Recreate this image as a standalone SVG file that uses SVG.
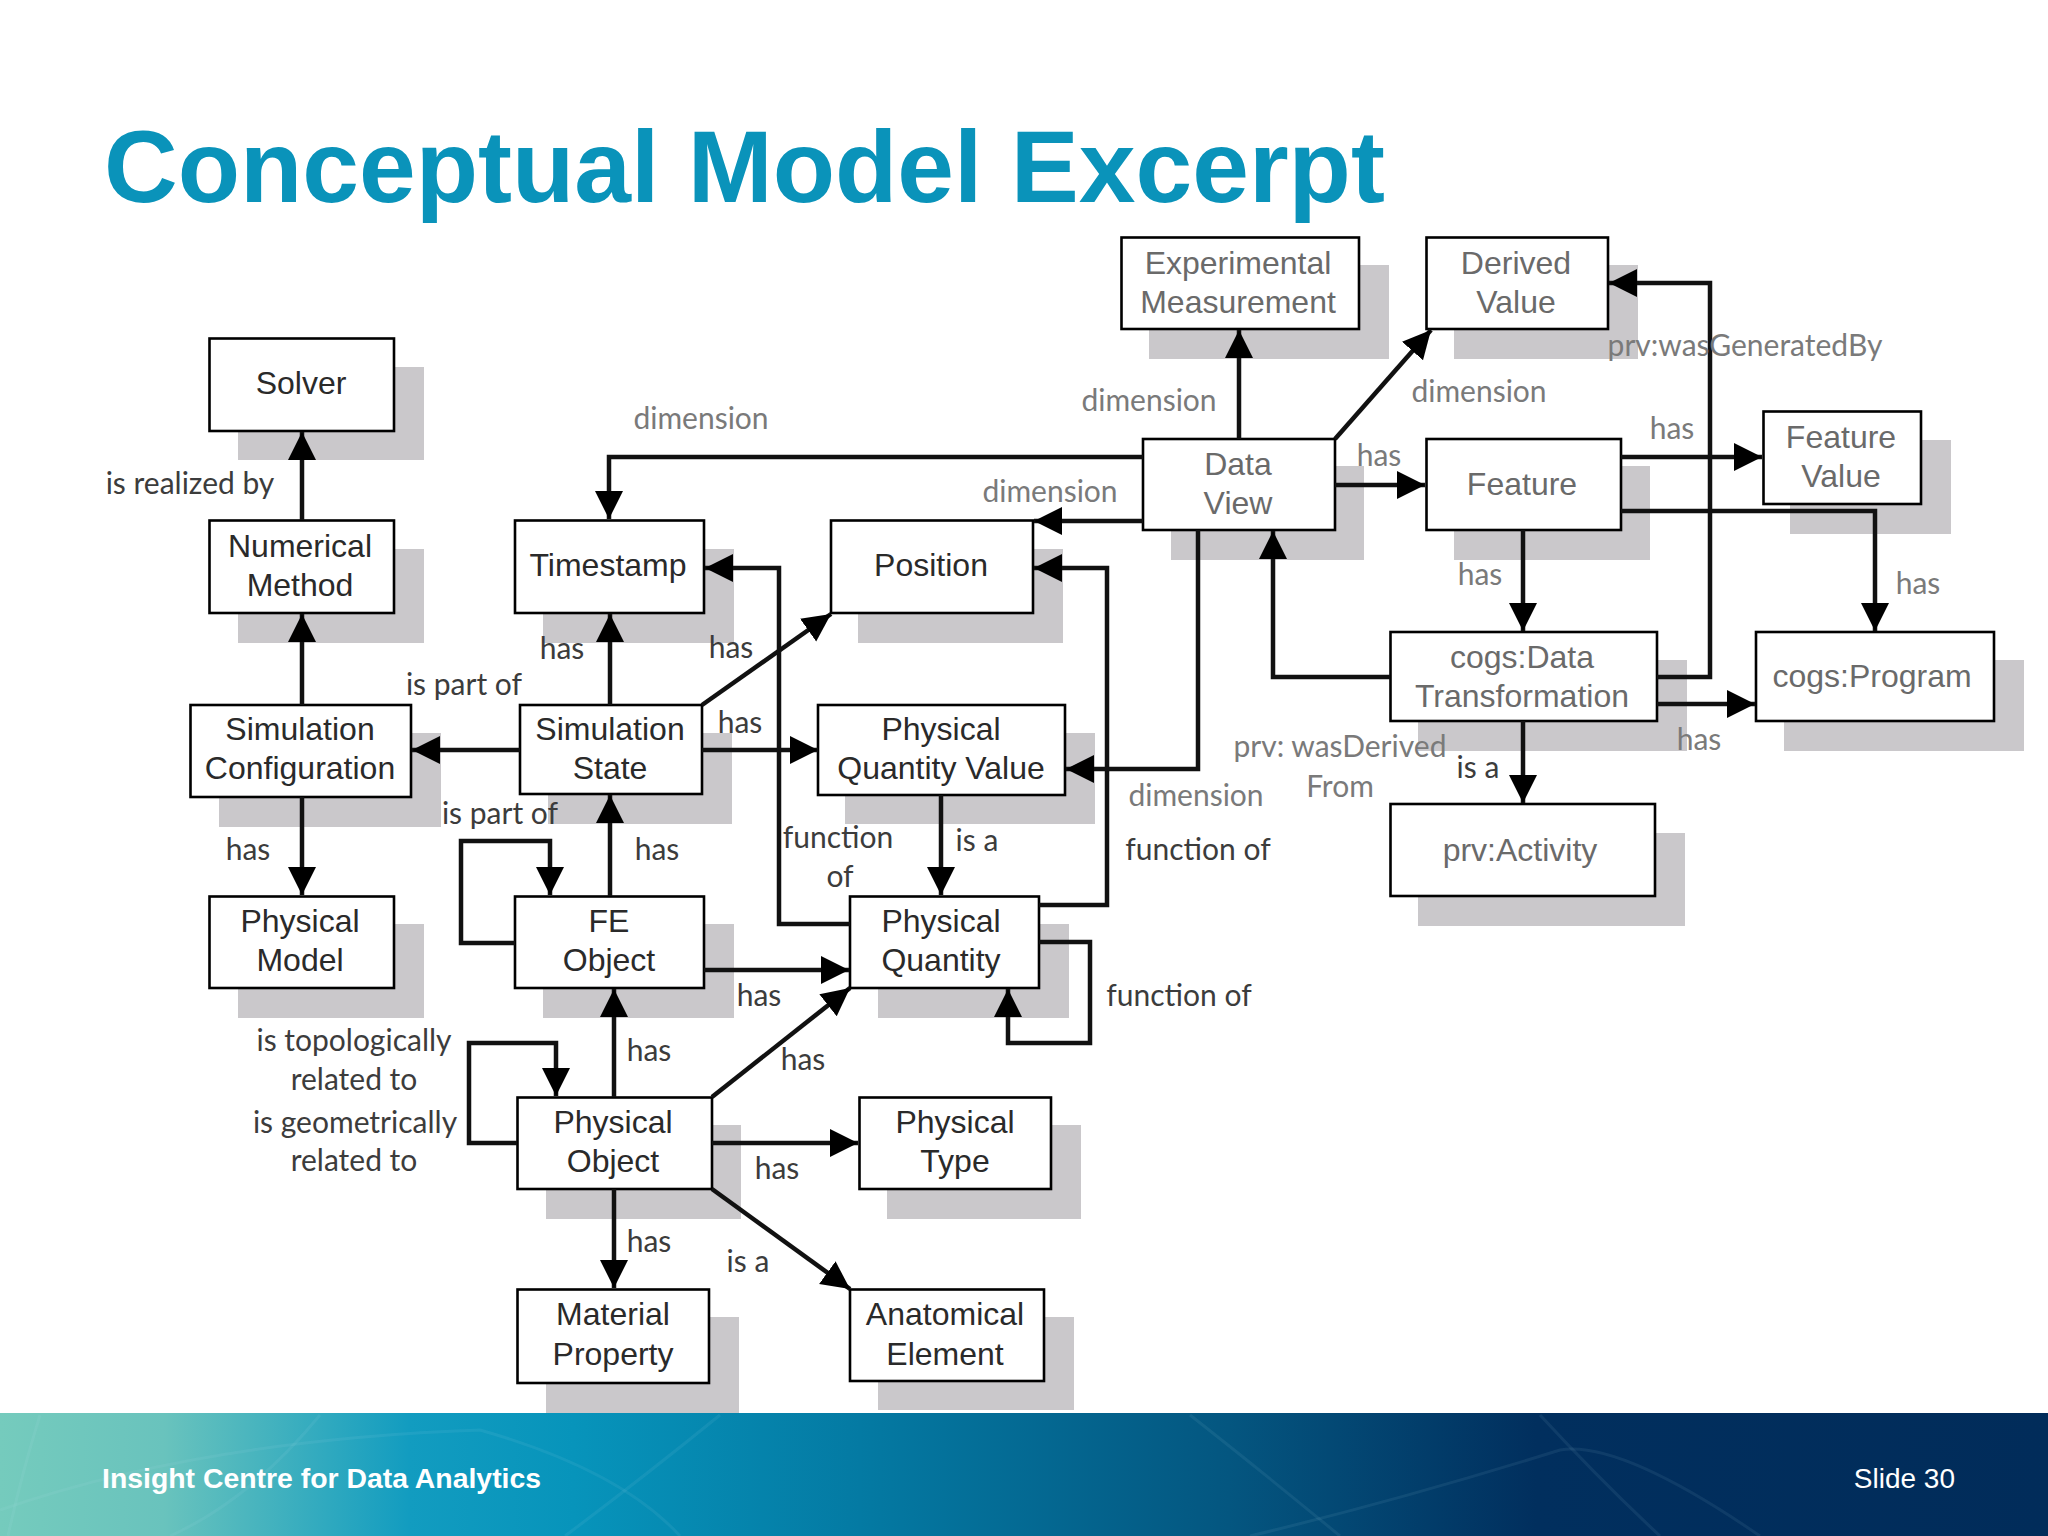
<svg xmlns="http://www.w3.org/2000/svg" width="2048" height="1536" viewBox="0 0 2048 1536">
<style>
.s{fill:#cac8cb}
.b{fill:#fff;stroke:#000;stroke-width:2.6}
.n{font-family:"Liberation Sans",Arial,sans-serif;font-size:32px;text-anchor:middle;fill:#2a2a2a}
.g{fill:#6a6a6a}
.c path{fill:none;stroke:#111;stroke-width:4.5;marker-end:url(#a)}
.l{font-family:Lato,"Liberation Sans",sans-serif;font-size:30px;text-anchor:middle;fill:#3c3c3c}
.d{fill:#7a7a7a}
</style>
<defs>
<marker id="a" markerUnits="userSpaceOnUse" markerWidth="30" markerHeight="30" refX="28" refY="15" orient="auto"><path d="M0 1L28 15L0 29Z" fill="#000"/></marker>
<linearGradient id="f" x1="0" x2="1" y1="0" y2="0">
<stop offset="0" stop-color="#75cbbd"/><stop offset=".08" stop-color="#69c3bd"/><stop offset=".2" stop-color="#129cc0"/><stop offset=".28" stop-color="#0794bb"/><stop offset=".42" stop-color="#047aa3"/><stop offset=".6" stop-color="#045680"/><stop offset=".75" stop-color="#012f5e"/><stop offset="1" stop-color="#012c5a"/>
</linearGradient>
</defs>
<rect width="2048" height="1536" fill="#fff"/>
<text x="104" y="202" font-family="Liberation Sans,Arial,sans-serif" font-size="102" font-weight="700" fill="#0a93ba">Conceptual Model Excerpt</text>

<g id="solver"><rect class="s" x="238" y="367" width="186" height="93"/><rect class="b" x="209.500" y="338.500" width="184.500" height="92.500"/><text class="n" x="301" y="394">Solver</text></g>
<g id="numerical-method"><rect class="s" x="238" y="549" width="186" height="94"/><rect class="b" x="209.500" y="520.500" width="184.500" height="92.500"/><text class="n" x="300" y="557">Numerical</text><text class="n" x="300" y="596">Method</text></g>
<g id="timestamp"><rect class="s" x="543" y="549" width="191" height="94"/><rect class="b" x="515" y="520.500" width="189" height="92.500"/><text class="n" x="608" y="576">Timestamp</text></g>
<g id="position"><rect class="s" x="858" y="549" width="205" height="94"/><rect class="b" x="831" y="520.500" width="202" height="92.500"/><text class="n" x="931" y="576">Position</text></g>
<g id="simulation-configuration"><rect class="s" x="219" y="733" width="222" height="94"/><rect class="b" x="190.500" y="705" width="220.500" height="92"/><text class="n" x="300" y="740">Simulation</text><text class="n" x="300" y="779">Configuration</text></g>
<g id="simulation-state"><rect class="s" x="548" y="733" width="184" height="91"/><rect class="b" x="520" y="705" width="182" height="89"/><text class="n" x="610" y="740">Simulation</text><text class="n" x="610" y="779">State</text></g>
<g id="physical-quantity-value"><rect class="s" x="845" y="733" width="250" height="91"/><rect class="b" x="818" y="705" width="247" height="90"/><text class="n" x="941" y="740">Physical</text><text class="n" x="941" y="779">Quantity Value</text></g>
<g id="physical-model"><rect class="s" x="238" y="924" width="186" height="94"/><rect class="b" x="209.500" y="896.500" width="184.500" height="91.500"/><text class="n" x="300" y="932">Physical</text><text class="n" x="300" y="971">Model</text></g>
<g id="fe-object"><rect class="s" x="543" y="924" width="191" height="94"/><rect class="b" x="515" y="896.500" width="189" height="91.500"/><text class="n" x="609" y="932">FE</text><text class="n" x="609" y="971">Object</text></g>
<g id="physical-quantity"><rect class="s" x="878" y="924" width="191" height="94"/><rect class="b" x="850" y="896.500" width="189" height="91.500"/><text class="n" x="941" y="932">Physical</text><text class="n" x="941" y="971">Quantity</text></g>
<g id="physical-object"><rect class="s" x="546" y="1125" width="195" height="94"/><rect class="b" x="517.500" y="1097.500" width="194.500" height="91.500"/><text class="n" x="613" y="1133">Physical</text><text class="n" x="613" y="1172">Object</text></g>
<g id="physical-type"><rect class="s" x="887" y="1125" width="194" height="94"/><rect class="b" x="859.500" y="1097.500" width="191.500" height="91.500"/><text class="n" x="955" y="1133">Physical</text><text class="n" x="955" y="1172">Type</text></g>
<g id="material-property"><rect class="s" x="546" y="1317" width="193" height="96"/><rect class="b" x="517.500" y="1289.500" width="191.500" height="93.500"/><text class="n" x="613" y="1325">Material</text><text class="n" x="613" y="1365">Property</text></g>
<g id="anatomical-element"><rect class="s" x="878" y="1317" width="196" height="93"/><rect class="b" x="850" y="1289.500" width="194" height="91.500"/><text class="n" x="945" y="1325">Anatomical</text><text class="n" x="945" y="1365">Element</text></g>

<g id="experimental-measurement"><rect class="s" x="1149" y="265" width="240" height="94"/><rect class="b" x="1121.500" y="237.500" width="237.500" height="91.500"/><text class="n g" x="1238" y="274">Experimental</text><text class="n g" x="1238" y="313">Measurement</text></g>
<g id="derived-value"><rect class="s" x="1454" y="265" width="184" height="94"/><rect class="b" x="1426.500" y="237.500" width="181.500" height="91.500"/><text class="n g" x="1516" y="274">Derived</text><text class="n g" x="1516" y="313">Value</text></g>
<g id="data-view"><rect class="s" x="1171" y="466" width="193" height="94"/><rect class="b" x="1143" y="439" width="192" height="91"/><text class="n g" x="1238" y="475">Data</text><text class="n g" x="1238" y="514">View</text></g>
<g id="feature"><rect class="s" x="1454" y="466" width="196" height="94"/><rect class="b" x="1426.500" y="439" width="194.500" height="91"/><text class="n g" x="1522" y="495">Feature</text></g>
<g id="feature-value"><rect class="s" x="1790" y="440" width="161" height="94"/><rect class="b" x="1763.500" y="411.500" width="157.500" height="92.500"/><text class="n g" x="1841" y="448">Feature</text><text class="n g" x="1841" y="487">Value</text></g>
<g id="cogs-data-transformation"><rect class="s" x="1418" y="660" width="269" height="91"/><rect class="b" x="1390.500" y="632" width="266.500" height="89"/><text class="n g" x="1522" y="668">cogs:Data</text><text class="n g" x="1522" y="707">Transformation</text></g>
<g id="cogs-program"><rect class="s" x="1784" y="660" width="240" height="91"/><rect class="b" x="1756" y="632" width="238" height="89"/><text class="n g" x="1872" y="687">cogs:Program</text></g>
<g id="prv-activity"><rect class="s" x="1418" y="833" width="267" height="93"/><rect class="b" x="1390.500" y="804" width="264.500" height="92"/><text class="n g" x="1520" y="861">prv:Activity</text></g>

<g id="connectors" class="c">
<path d="M302 520V432"/><path d="M302 705V614"/><path d="M520 750H412"/><path d="M610 705V614"/><path d="M702 705L831 614"/><path d="M702 750H818"/>
<path d="M1143 457H609V519"/><path d="M610 896V795"/><path d="M302 797V895"/>
<path d="M515 943H461V841H550V895"/><path d="M850 924H779V568H705"/><path d="M1039 905H1107V568H1034"/><path d="M1143 521H1034"/>
<path d="M1198 530V769H1066"/><path d="M941 795V895"/><path d="M704 970H849"/><path d="M1039 942H1090V1043H1008V989"/>
<path d="M614 1097V989"/><path d="M712 1097L850 988"/><path d="M517 1143H469V1043H556V1096"/><path d="M712 1143H858"/><path d="M614 1189V1288"/><path d="M712 1189L850 1289"/>
<path d="M1239 439V330"/><path d="M1335 439L1431 330"/><path d="M1335 485H1425"/><path d="M1621 457H1762"/><path d="M1621 511H1875V631"/><path d="M1523 530V631"/>
<path d="M1390 677H1273V531"/><path d="M1657 677H1710V283H1609"/><path d="M1657 704H1755"/><path d="M1523 721V803"/>
</g>

<g id="labels">
<text class="l d" x="701" y="429">dimension</text>
<text class="l" x="190" y="494">is realized by</text>
<text class="l" x="562" y="659">has</text>
<text class="l" x="731" y="658">has</text>
<text class="l" x="464" y="695">is part of</text>
<text class="l" x="740" y="733">has</text>
<text class="l" x="500" y="824">is part of</text>
<text class="l" x="248" y="860">has</text>
<text class="l" x="657" y="860">has</text>
<text class="l" x="838" y="848">function</text>
<text class="l" x="840" y="887">of</text>
<text class="l" x="977" y="851">is a</text>
<text class="l" x="1198" y="860">function of</text>
<text class="l d" x="1196" y="806">dimension</text>
<text class="l d" x="1340" y="757">prv: wasDerived</text>
<text class="l d" x="1340" y="797">From</text>
<text class="l" x="1478" y="778">is a</text>
<text class="l d" x="1699" y="750">has</text>
<text class="l d" x="1745" y="356">prv:wasGeneratedBy</text>
<text class="l d" x="1479" y="402">dimension</text>
<text class="l d" x="1672" y="439">has</text>
<text class="l d" x="1379" y="466">has</text>
<text class="l d" x="1149" y="411">dimension</text>
<text class="l d" x="1050" y="502">dimension</text>
<text class="l d" x="1480" y="585">has</text>
<text class="l d" x="1918" y="594">has</text>
<text class="l" x="759" y="1006">has</text>
<text class="l" x="649" y="1061">has</text>
<text class="l" x="803" y="1070">has</text>
<text class="l" x="777" y="1179">has</text>
<text class="l" x="649" y="1252">has</text>
<text class="l" x="748" y="1272">is a</text>
<text class="l" x="1179" y="1006">function of</text>
<text class="l" x="354" y="1051">is topologically</text>
<text class="l" x="354" y="1090">related to</text>
<text class="l" x="355" y="1133">is geometrically</text>
<text class="l" x="354" y="1171">related to</text>
</g>

<g id="footer">
<rect x="0" y="1413" width="2048" height="123" fill="url(#f)"/>
<g fill="none" stroke="#bfeaf0" stroke-opacity=".08" stroke-width="3">
<path d="M40 1415Q20 1480 8 1536"/><path d="M320 1415Q250 1500 170 1536"/><path d="M720 1415Q640 1480 565 1536"/><path d="M1190 1415Q1260 1470 1340 1536"/><path d="M1540 1415Q1600 1480 1660 1536"/><path d="M1250 1536Q1400 1500 1560 1450Q1620 1440 1760 1536"/><path d="M0 1510Q200 1440 480 1430Q620 1470 680 1536"/>
</g>
<text x="102" y="1488" font-family="Liberation Sans,Arial,sans-serif" font-size="28.400" font-weight="700" fill="#fff">Insight Centre for Data Analytics</text>
<text x="1955" y="1488" font-family="Liberation Sans,Arial,sans-serif" font-size="28" text-anchor="end" fill="#fff">Slide 30</text>
</g>
</svg>
